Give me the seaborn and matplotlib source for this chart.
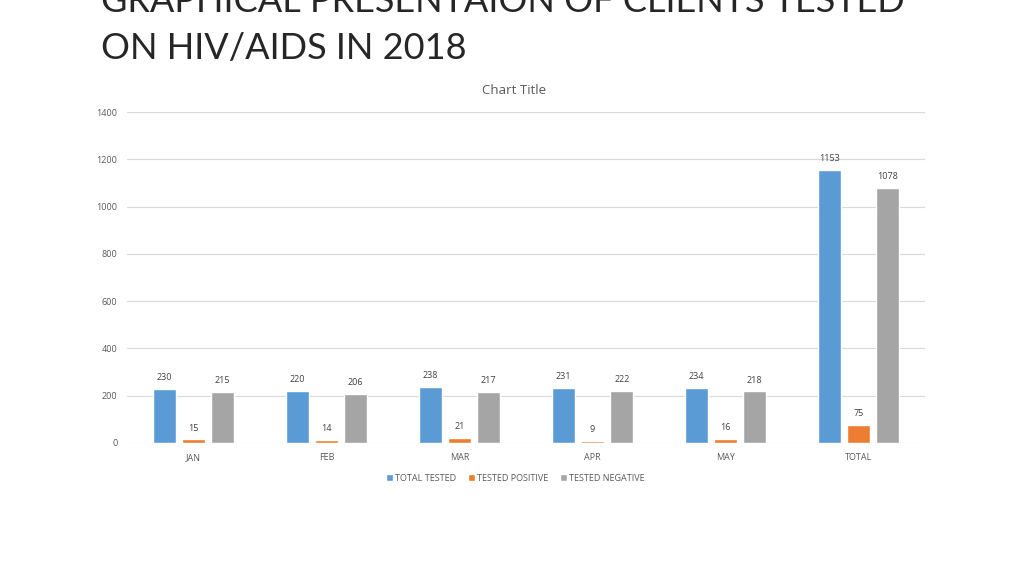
import matplotlib
matplotlib.use("Agg")
import matplotlib.pyplot as plt
import seaborn as sns
import pandas as pd

months = ["JAN", "FEB", "MAR", "APR", "MAY", "TOTAL"]
total_tested = [230, 220, 238, 231, 234, 1153]
tested_positive = [15, 14, 21, 9, 16, 75]
tested_negative = [215, 206, 217, 222, 218, 1078]
series = ["TOTAL TESTED", "TESTED POSITIVE", "TESTED NEGATIVE"]
colors = ["#5B9BD5", "#ED7D31", "#A5A5A5"]

rows = []
for name, vals in zip(series, [total_tested, tested_positive, tested_negative]):
    for m, v in zip(months, vals):
        rows.append({"month": m, "series": name, "value": v})
df = pd.DataFrame(rows)

sns.set_theme(style="white")
plt.rcParams["font.family"] = ["Open Sans", "DejaVu Sans"]

fig = plt.figure(figsize=(10.24, 5.76), dpi=100)
ax = fig.add_axes([127/1024, (576-443)/576, (925-127)/1024, (443-112)/576])

sns.barplot(data=df, x="month", y="value", hue="series", order=months,
            hue_order=series, palette=colors, width=0.66, gap=0.2,
            saturation=1, ax=ax, legend=True)

ax.set_xlim(-0.5, 5.5)
ax.set_ylim(0, 1400)
ax.set_yticks(range(0, 1401, 200))
ax.yaxis.grid(True, color="#D9D9D9", linewidth=0.8)
ax.set_axisbelow(True)
for s in ax.spines.values():
    s.set_visible(False)
ax.tick_params(axis="both", length=0, labelsize=6.5, colors="#595959")
ax.tick_params(axis="y", pad=7)
ax.tick_params(axis="x", pad=7)
ax.set_xlabel("")
ax.set_ylabel("")

for cont in ax.containers:
    ax.bar_label(cont, fmt="%d", padding=5, fontsize=6.5, color="#404040")

handles, labels = ax.get_legend_handles_labels()
ax.legend(handles, labels, loc="upper center", bbox_to_anchor=(0.487, -0.068),
          ncol=3, frameon=False, fontsize=6.5, handlelength=0.7, handleheight=0.7,
          columnspacing=1.3, handletextpad=0.3, labelcolor="#595959")

fig.text(514/1024, 1 - 90/576, "Chart Title", ha="center", va="center",
         fontsize=9.5, color="#595959")

fig.text(101/1024, 1 - 12/576, "GRAPHICAL PRESENTAION OF CLIENTS TESTED",
         ha="left", va="baseline", fontsize=26, color="#262626",
         family=["Lato", "DejaVu Sans"], fontweight="normal")
fig.text(101/1024, 1 - 59/576, "ON HIV/AIDS IN 2018",
         ha="left", va="baseline", fontsize=26, color="#262626",
         family=["Lato", "DejaVu Sans"], fontweight="normal")

fig.savefig("out.png", dpi=100)
